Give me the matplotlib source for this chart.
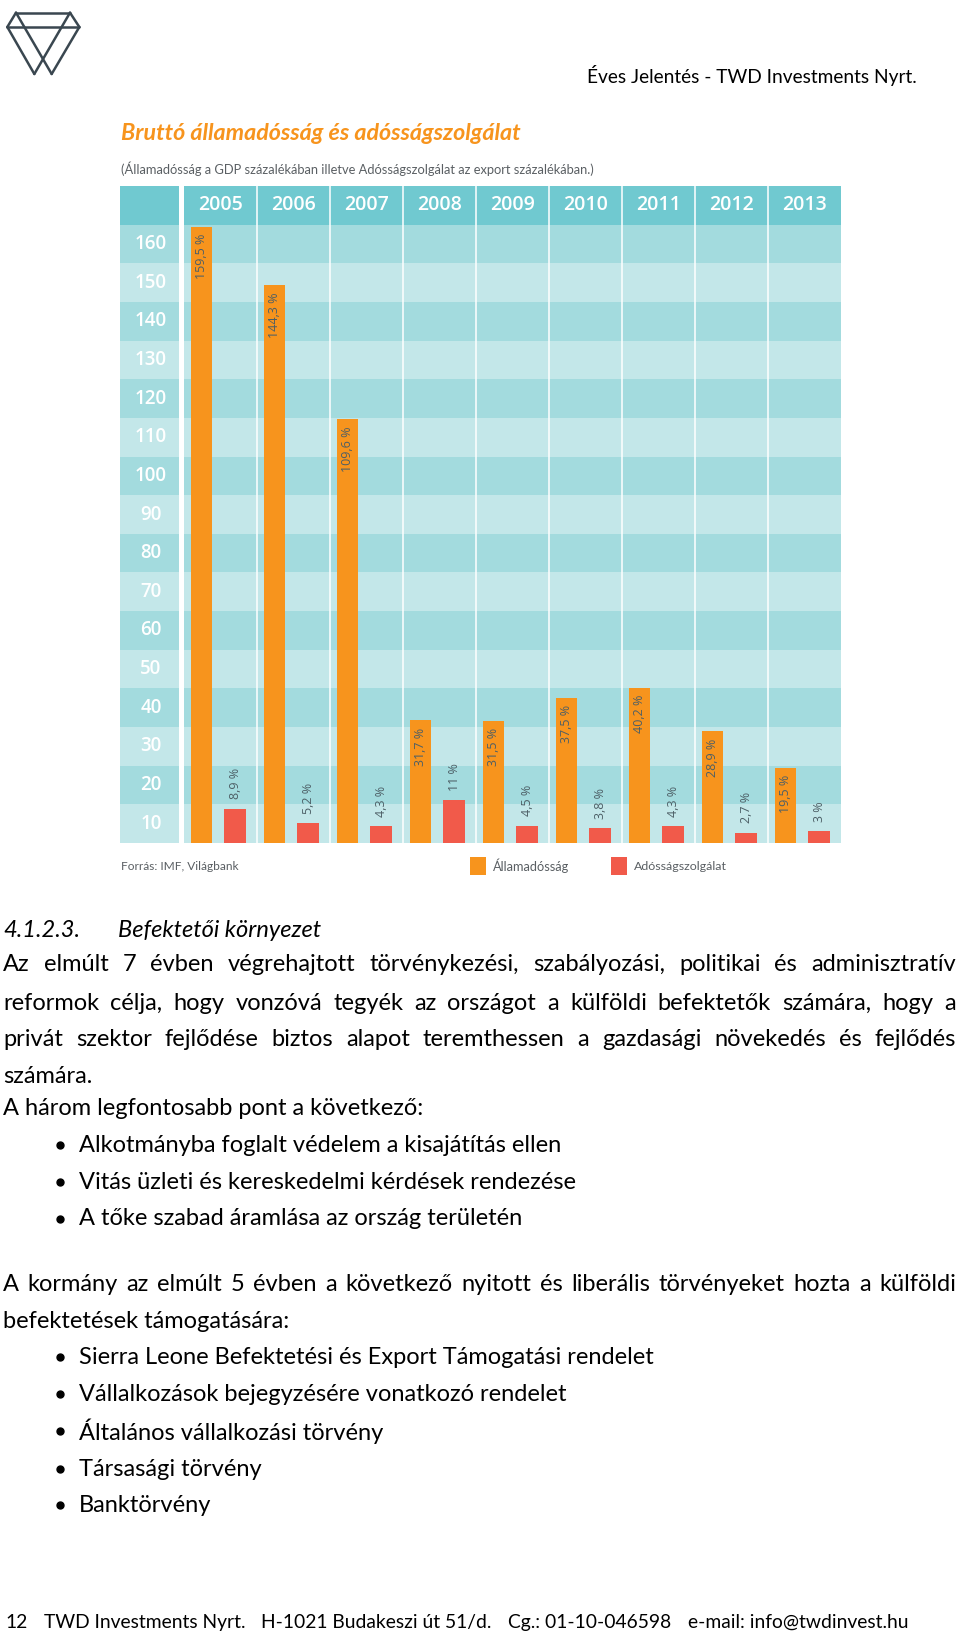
import matplotlib
matplotlib.use("Agg")
import matplotlib.pyplot as plt
from matplotlib.patches import Rectangle

# ---------------- data ----------------
years = ['2005', '2006', '2007', '2008', '2009', '2010', '2011', '2012', '2013']
allamadossag = [159.5, 144.3, 109.6, 31.7, 31.5, 37.5, 40.2, 28.9, 19.5]
adossagszolgalat = [8.9, 5.2, 4.3, 11, 4.5, 3.8, 4.3, 2.7, 3]
band_labels = [10, 20, 30, 40, 50, 60, 70, 80, 90, 100, 110, 120, 130, 140, 150, 160]

title = 'Bruttó államadósság és adósságszolgálat'
subtitle = '(Államadósság a GDP százalékában illetve Adósságszolgálat az export százalékában.)'
source = 'Forrás: IMF, Világbank'
legend_names = ['Államadósság', 'Adósságszolgálat']

header_right = 'Éves Jelentés - TWD Investments Nyrt.'
heading_num = '4.1.2.3.'
heading_txt = 'Befektetői környezet'
para1 = ['Az elmúlt 7 évben végrehajtott törvénykezési, szabályozási, politikai és adminisztratív',
         'reformok célja, hogy vonzóvá tegyék az országot a külföldi befektetők számára, hogy a',
         'privát szektor fejlődése biztos alapot teremthessen a gazdasági növekedés és fejlődés']
para1_last = 'számára.'
intro1 = 'A három legfontosabb pont a következő:'
bullets1 = ['Alkotmányba foglalt védelem a kisajátítás ellen',
            'Vitás üzleti és kereskedelmi kérdések rendezése',
            'A tőke szabad áramlása az ország területén']
para2 = ['A kormány az elmúlt 5 évben a következő nyitott és liberális törvényeket hozta a külföldi']
para2_last = 'befektetések támogatására:'
bullets2 = ['Sierra Leone Befektetési és Export Támogatási rendelet',
            'Vállalkozások bejegyzésére vonatkozó rendelet',
            'Általános vállalkozási törvény',
            'Társasági törvény',
            'Banktörvény']
footer_parts = ['12', 'TWD Investments Nyrt.', 'H-1021 Budakeszi út 51/d.',
                'Cg.: 01-10-046598', 'e-mail: info@twdinvest.hu']

# ---------------- colours ----------------
ORANGE = '#f7941d'
RED = '#f15a4a'
HEAD = '#70c9d0'
DARK = '#a3dbde'
LIGHT = '#c3e7e9'
LABEL = '#4d5f66'

W, H = 960, 1635
fig = plt.figure(figsize=(W / 100, H / 100), dpi=100)
fig.patch.set_facecolor('white')
renderer = fig.canvas.get_renderer()

# overlay axes in pixel coordinates
ov = fig.add_axes([0, 0, 1, 1], zorder=3)
ov.set_xlim(0, W)
ov.set_ylim(H, 0)
ov.axis('off')
ov.patch.set_visible(False)


def width(t):
    return t.get_window_extent(renderer).width


def fit(t, target):
    t.set_fontsize(t.get_fontsize() * target / width(t))
    return t


BODY = ['Lato', 'DejaVu Sans']
HFONT = ['Open Sans', 'DejaVu Sans']

# ---------------- chart axes ----------------
x_left_px, x_data_px, x_right_px = 120, 184, 841
y_top_px, y_bot_px = 186, 843
colw = (x_right_px - x_data_px) / len(years)
xmin = (x_left_px - x_data_px) / colw
lab_right = (179 - x_data_px) / colw

ax = fig.add_axes([x_left_px / W, 1 - y_bot_px / H,
                   (x_right_px - x_left_px) / W, (y_bot_px - y_top_px) / H], zorder=2)
ax.set_xlim(xmin, len(years))
ax.set_ylim(0, 170)
ax.axis('off')

n = len(years)
for k in range(16):
    c = DARK if k % 2 == 1 else LIGHT
    ax.add_patch(Rectangle((xmin, 10 * k), lab_right - xmin, 10, color=c, lw=0, zorder=1))
    ax.add_patch(Rectangle((0, 10 * k), n, 10, color=c, lw=0, zorder=1))
ax.add_patch(Rectangle((xmin, 160), lab_right - xmin, 10, color=HEAD, lw=0, zorder=1))
ax.add_patch(Rectangle((0, 160), n, 10, color=HEAD, lw=0, zorder=1))
for i in range(1, n):
    ax.plot([i, i], [0, 170], color='white', lw=1.1, zorder=2)

for i, yr in enumerate(years):
    ax.text(i + 0.5, 165, yr, color='white', fontsize=14, fontweight='semibold',
            family=HFONT, ha='center', va='center', zorder=5)
for k, lab in enumerate(band_labels):
    ax.text((xmin + lab_right) / 2 + 0.02, 10 * k + 5, str(lab), color='white', fontsize=13.5,
            fontweight='semibold', family=HFONT, ha='center', va='center', zorder=5)

xs = list(range(n))
o_off, o_w = 0.24, 0.29
r_off, r_w = 0.70, 0.30
ax.bar([x + o_off for x in xs], allamadossag, width=o_w, color=ORANGE, zorder=3)
ax.bar([x + r_off for x in xs], adossagszolgalat, width=r_w, color=RED, zorder=3)


def fmt(v):
    return f'{v:g}'.replace('.', ',') + ' %'


for x, v in zip(xs, allamadossag):
    ax.text(x + o_off, v - 1.8, fmt(v), rotation=90, ha='center', va='top',
            fontsize=9, color=LABEL, family=HFONT, zorder=5)
for x, v in zip(xs, adossagszolgalat):
    ax.text(x + r_off, v + 2.4, fmt(v), rotation=90, ha='center', va='bottom',
            fontsize=9, color=LABEL, family=HFONT, zorder=5)

# ---------------- chart titles / legend ----------------
t = ov.text(121, 133, title, color=ORANGE, fontsize=14, fontweight='bold', style='italic',
            family=BODY, ha='left', va='center')
fit(t, 400)
GREY = '#5a5f63'
t = ov.text(121, 169, subtitle, color=GREY, fontsize=8, family=BODY, ha='left', va='center')
fit(t, 479)
t = ov.text(121, 866, source, color=GREY, fontsize=8, family=BODY, ha='left', va='center')
fit(t, 117)
ov.add_patch(Rectangle((470, 857), 16, 18, color=ORANGE, lw=0))
ov.add_patch(Rectangle((611, 857), 16, 18, color=RED, lw=0))
t = ov.text(493, 866, legend_names[0], color=GREY, fontsize=8, family=BODY, ha='left', va='center')
fit(t, 77)
t = ov.text(634, 866, legend_names[1], color=GREY, fontsize=8, family=BODY, ha='left', va='center')
fit(t, 93)

# ---------------- logo ----------------
LOGO = '#3a4750'
s = 1 / 3.0
pts = {
    'tl': (48 * s, 38 * s), 'tr': (210 * s, 38 * s),
    'ml': (22 * s, 81 * s), 'mr': (238 * s, 81 * s),
    'bl': (103 * s, 222 * s), 'br': (155 * s, 222 * s),
}
segs = [('tl', 'tr'), ('tl', 'ml'), ('tr', 'mr'), ('ml', 'mr'), ('ml', 'bl'), ('mr', 'br'),
        ('tl', 'br'), ('tr', 'bl')]
for a, b in segs:
    ov.plot([pts[a][0], pts[b][0]], [pts[a][1], pts[b][1]], color=LOGO, lw=1.8,
            solid_capstyle='round')

# ---------------- page text ----------------
t = ov.text(587, 75, header_right, color='black', fontsize=12, family=BODY, ha='left', va='center')
fit(t, 330)

ref = ov.text(79, 1145, bullets1[0], color='black', fontsize=14, family=BODY, ha='left', va='center')
fit(ref, 484)
FS = ref.get_fontsize()


def justify(line, y, x0=3, x1=956):
    words = line.split()
    ts = [ov.text(0, y, w, fontsize=FS, family=BODY, color='black', ha='left', va='center')
          for w in words]
    ws = [width(tt) for tt in ts]
    gap = (x1 - x0 - sum(ws)) / (len(words) - 1)
    x = x0
    for tt, w in zip(ts, ws):
        tt.set_x(x)
        x += w + gap


def plain(line, y, x=3, **kw):
    return ov.text(x, y, line, fontsize=FS, family=BODY, color='black', ha='left', va='center', **kw)


plain(heading_num, 930, x=3, style='italic')
plain(heading_txt, 930, x=118, style='italic')
for line, y in zip(para1, [964, 1003, 1039]):
    justify(line, y)
plain(para1_last, 1076)
plain(intro1, 1108)
for i, (line, y) in enumerate(zip(bullets1, [1145, 1182, 1218.5])):
    if i > 0:
        plain(line, y, x=79)
    ov.plot([60], [y], 'o', color='black', ms=5)
for line, y in zip(para2, [1284]):
    justify(line, y)
plain(para2_last, 1321)
for line, y in zip(bullets2, [1357, 1394, 1431, 1469, 1505]):
    plain(line, y, x=79)
    ov.plot([60], [y], 'o', color='black', ms=5)

# footer: segments laid out in a row from x=5 to x=908
ft = [ov.text(0, 1622, p, fontsize=FS, family=BODY, color='black', ha='left', va='center')
      for p in footer_parts]
ws = [width(tt) for tt in ft]
if sum(ws) > 903 - 4 * 16:
    sc = (903 - 4 * 16) / sum(ws)
    for tt in ft:
        tt.set_fontsize(tt.get_fontsize() * sc)
    ws = [width(tt) for tt in ft]
gap = (903 - sum(ws)) / 4
x = 5
for tt, w in zip(ft, ws):
    tt.set_x(x)
    x += w + gap

fig.savefig('out.png', dpi=100, facecolor='white')
